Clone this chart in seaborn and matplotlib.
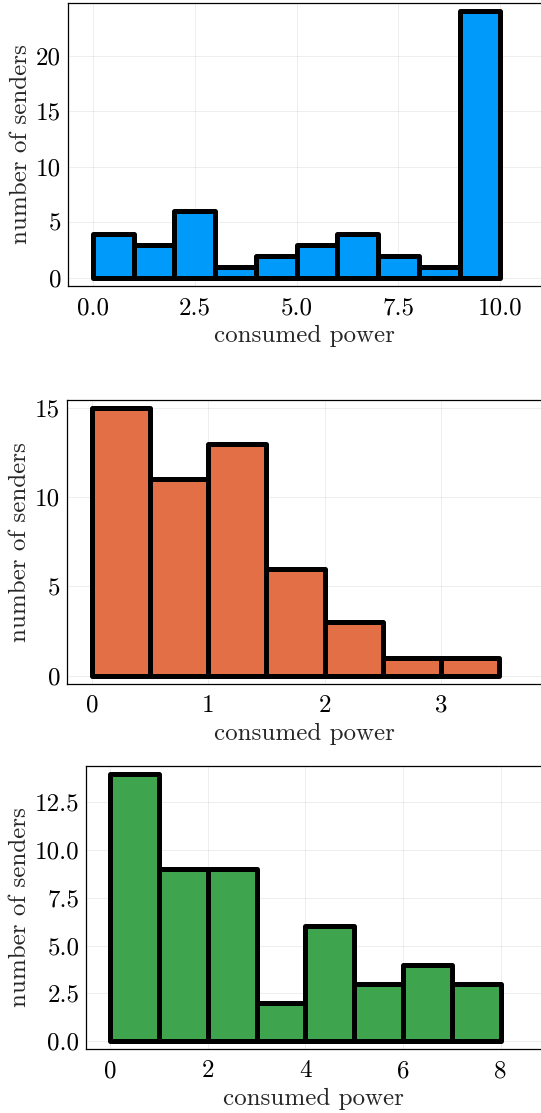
import numpy as np
import matplotlib
matplotlib.use("Agg")
import matplotlib.pyplot as plt
import seaborn as sns

# histogram data #
edges_a = [0, 1, 2, 3, 4, 5, 6, 7, 8, 9, 10]
counts_a = [4, 3, 6, 1, 2, 3, 4, 2, 1, 24]
edges_b = [0, 0.5, 1, 1.5, 2, 2.5, 3, 3.5]
counts_b = [15, 11, 13, 6, 3, 1, 1]
edges_c = [0, 1, 2, 3, 4, 5, 6, 7, 8]
counts_c = [14, 9, 9, 2, 6, 3, 4, 3]

xticks_a = [0.0, 2.5, 5.0, 7.5, 10.0]
yticks_a = [0, 5, 10, 15, 20]
xticks_b = [0, 1, 2, 3]
yticks_b = [0, 5, 10, 15]
xticks_c = [0, 2, 4, 6, 8]
yticks_c = [0.0, 2.5, 5.0, 7.5, 10.0, 12.5]

sns.set_style("white")
plt.rcParams['font.family'] = ['cmr10', 'DejaVu Serif']
plt.rcParams['axes.formatter.use_mathtext'] = True
plt.rcParams['mathtext.fontset'] = 'cm'

fig = plt.figure(figsize=(5.41, 11.13), dpi=100)

panels = [
    (edges_a, counts_a, '#009AFA', [0.1257, 0.7430, 0.8743, 0.2543],
     (-0.61, 11.0), (-0.72, 24.72), xticks_a, yticks_a, '%.1f', '%d'),
    (edges_b, counts_b, '#E36F47', [0.1238, 0.3857, 0.8762, 0.2549],
     (-0.215, 3.86), (-0.45, 15.45), xticks_b, yticks_b, '%d', '%d'),
    (edges_c, counts_c, '#3EA44E', [0.1595, 0.0575, 0.8405, 0.2545],
     (-0.49, 8.83), (-0.42, 14.42), xticks_c, yticks_c, '%d', '%.1f'),
]

for edges, counts, colour, rect, xl, yl, xt, yt, xf, yf in panels:
    ax = fig.add_axes(rect)
    centers = [(edges[i] + edges[i + 1]) / 2 for i in range(len(counts))]
    sns.histplot(x=centers, weights=counts, bins=edges, ax=ax,
                 color=colour, alpha=1.0, edgecolor='black', linewidth=3.6)
    for p in ax.patches:
        p.set_joinstyle('round')
        p.set_capstyle('round')
        p.set_clip_on(False)
    ax.set_xlim(*xl)
    ax.set_ylim(*yl)
    ax.set_xticks(xt)
    ax.set_yticks(yt)
    ax.set_xticklabels([xf % v for v in xt])
    ax.set_yticklabels([yf % v for v in yt])
    ax.grid(True, color='black', alpha=0.08, linewidth=0.6)
    ax.set_axisbelow(True)
    for s in ax.spines.values():
        s.set_color('black')
        s.set_linewidth(0.9)
    ax.spines['right'].set_visible(False)
    ax.tick_params(axis='x', direction='in', length=3, width=0.6, labelsize=18,
                   pad=8, colors='black')
    ax.tick_params(axis='y', direction='in', length=3, width=0.6, labelsize=18,
                   pad=5, colors='black')
    ax.set_xlabel('consumed power', fontsize=18, labelpad=4)
    ax.set_ylabel('number of senders', fontsize=18, labelpad=3)

plt.savefig('out.png', dpi=100)
